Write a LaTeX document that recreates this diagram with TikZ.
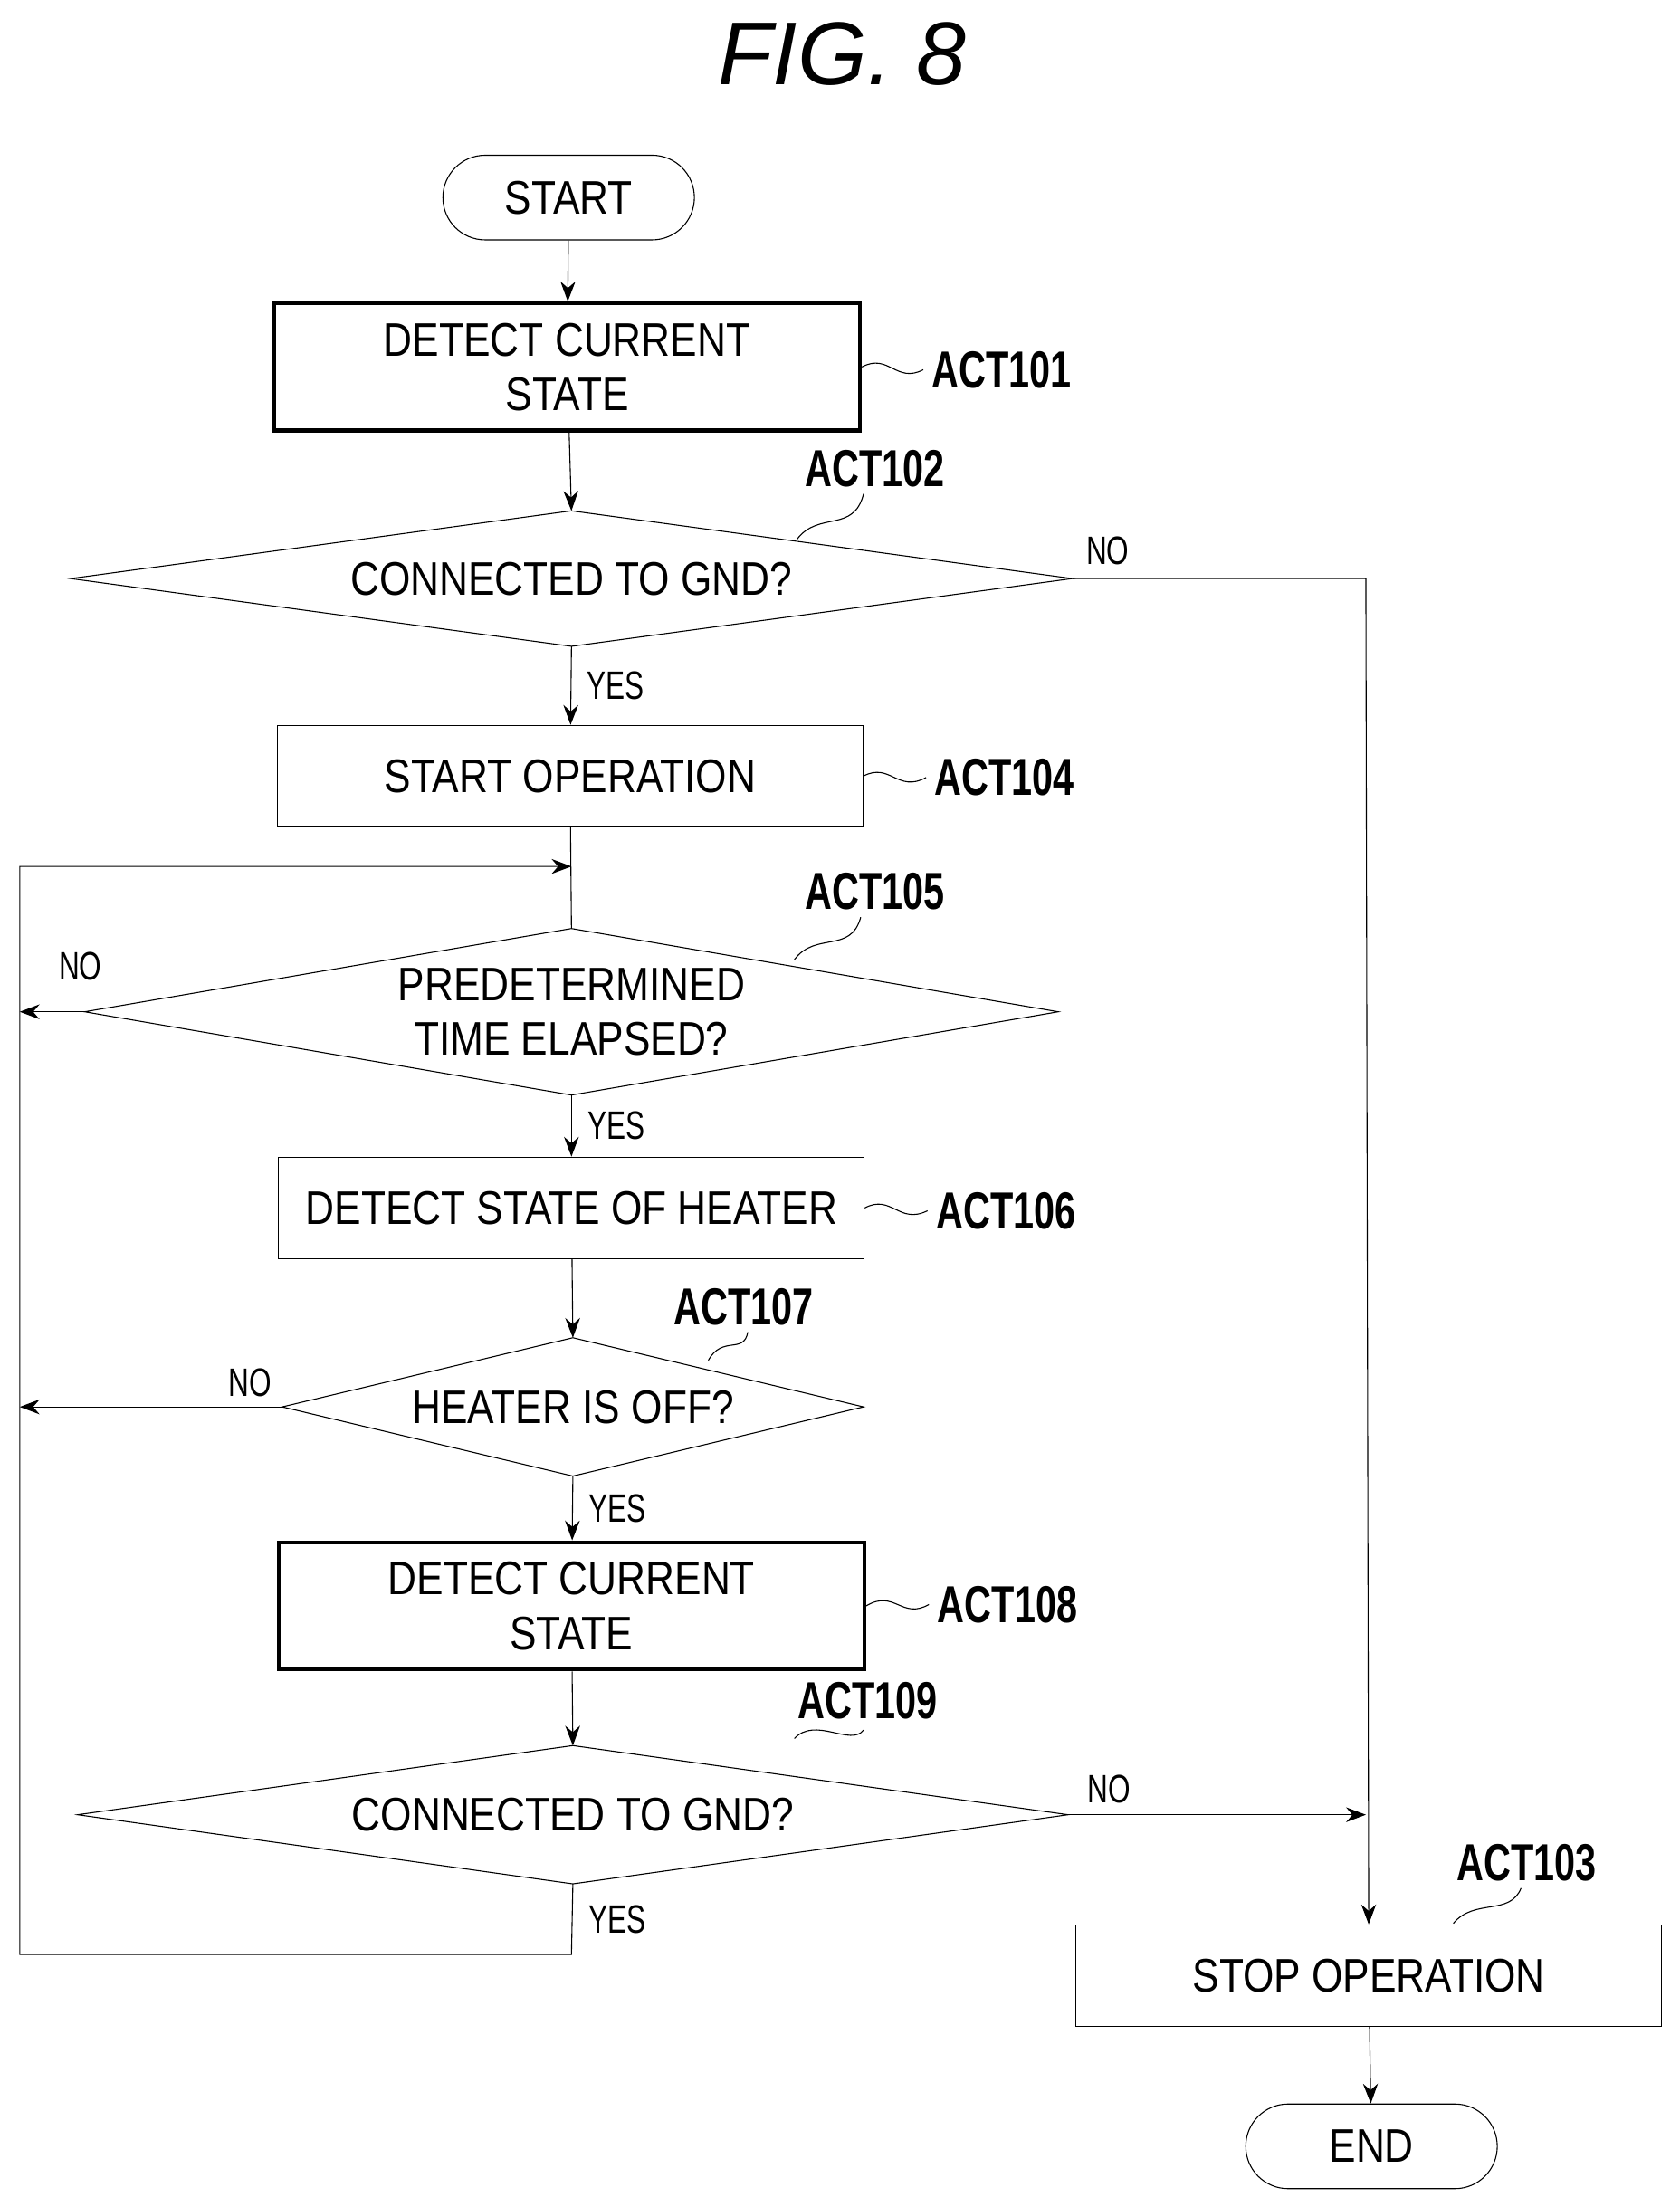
\documentclass[tikz,border=0pt]{standalone}
\usepackage{fontspec}
\setmainfont{Liberation Sans}
\newfontfamily\boxfont[FakeStretch=0.85]{Liberation Sans}
\newfontfamily\actfont[FakeStretch=0.72]{Liberation Sans}
\usetikzlibrary{calc,arrows.meta,shapes.misc,positioning}

\tikzset{
  proc/.style={draw,thin,minimum width=8.3cm,minimum height=1.44cm,align=center,
    font=\boxfont\fontsize{19}{22}\selectfont},
  thickproc/.style={proc,line width=1.6pt,minimum height=1.8cm},
  term/.style={draw,rounded rectangle,minimum width=3.8cm,minimum height=1.2cm,
    font=\boxfont\fontsize{19}{22}\selectfont},
  txt/.style={align=center,font=\boxfont\fontsize{19}{22}\selectfont},
  act/.style={font=\actfont\bfseries\fontsize{21}{24}\selectfont},
  yn/.style={font=\actfont\fontsize{16}{18}\selectfont},
  flow/.style={-{Stealth[length=8pt,width=6pt]}},
  squig/.style={thin}
}
% decision diamond: name, centre, half width, half height, text
\newcommand{\decision}[6]{
  \node[txt] (#1) at (#2,#3) {#6};
  \coordinate (#1t) at (#2,#3-#5);
  \coordinate (#1b) at (#2,#3+#5);
  \coordinate (#1l) at (#2-#4,#3);
  \coordinate (#1r) at (#2+#4,#3);
  \draw (#1t)--(#1r)--(#1b)--(#1l)--cycle;
}

\begin{document}
\begin{tikzpicture}[x=0.02cm,y=-0.02cm]
\useasboundingbox (0,0) rectangle (1190,1564);
\node[font=\itshape\fontsize{36}{40}\selectfont] (title) at (597,38) {FIG. 8};

\node[term] (start) at (403,140) {START};
\node[thickproc] (a101) at (402,260) {DETECT CURRENT\\STATE};
\decision{d102}{405}{410}{355}{48}{CONNECTED TO GND?}
\node[proc] (a104) at (404,550) {START OPERATION};
\decision{d105}{405}{717}{345}{59}{PREDETERMINED\\TIME ELAPSED?}
\node[proc] (a106) at (405,856) {DETECT STATE OF HEATER};
\decision{d107}{406}{997}{206}{49}{HEATER IS OFF?}
\node[thickproc] (a108) at (405,1138) {DETECT CURRENT\\STATE};
\decision{d109}{406}{1286}{351}{49}{CONNECTED TO GND?}
\node[proc] (a103) at (970,1400) {STOP OPERATION};
\node[term] (end) at (972,1521) {END};

% labels
\node[act] (l101) at (710,262) {ACT101};
\node[act] (l102) at (620,332) {ACT102};
\node[act] (l104) at (712,551) {ACT104};
\node[act] (l105) at (620,632) {ACT105};
\node[act] (l106) at (713,858) {ACT106};
\node[act] (l107) at (527,926) {ACT107};
\node[act] (l108) at (714,1137) {ACT108};
\node[act] (l109) at (615,1205) {ACT109};
\node[act] (l103) at (1082,1320) {ACT103};
\draw[squig] (a101.east) .. controls (630,250) and (635,272) .. (l101.west);
\draw[squig] (a104.east) .. controls (631,540) and (636,562) .. (l104.west);
\draw[squig] (a106.east) .. controls (632,846) and (637,868) .. (l106.west);
\draw[squig] (a108.east) .. controls (634,1126) and (639,1148) .. (l108.west);
\draw[squig] (565,382) .. controls (580,362) and (605,378) .. (612,350);
\draw[squig] (563,680) .. controls (578,660) and (603,676) .. (610,650);
\draw[squig] (502,964) .. controls (512,946) and (527,960) .. (530,944);
\draw[squig] (563,1232) .. controls (578,1216) and (603,1238) .. (612,1226);
\draw[squig] (1030,1363) .. controls (1045,1345) and (1070,1358) .. (1078,1338);

% connectors
\draw[flow] (start) -- (a101);
\draw[flow] (a101) -- (d102t);
\draw[flow] (d102b) -- node[yn,right=3pt]{YES} (a104);
\draw (a104) -- (d105t);
\draw[flow] (d105b) -- node[yn,right=3pt]{YES} (a106);
\draw[flow] (a106) -- (d107t);
\draw[flow] (d107b) -- node[yn,right=3pt]{YES} (a108);
\draw[flow] (a108) -- (d109t);
\coordinate (join) at (405,614);
\coordinate (lo) at (14,1385);
\draw[flow] (d109b) -- node[yn,right=3pt]{YES} (405,1385) -- (lo) -- (14,614) -- (join);
\draw[flow] (d105l) -- (14,717);
\node[yn] at (57,685) {NO};
\draw[flow] (d107l) -- (14,997);
\node[yn] at (177,980) {NO};
\draw[flow] (d102r) -- (968,410) -- (a103.north);
\node[yn] at (785,390) {NO};
\draw[flow] (d109r) -- (968,1286);
\node[yn] at (786,1268) {NO};
\draw[flow] (a103) -- (end);
\end{tikzpicture}
\end{document}
